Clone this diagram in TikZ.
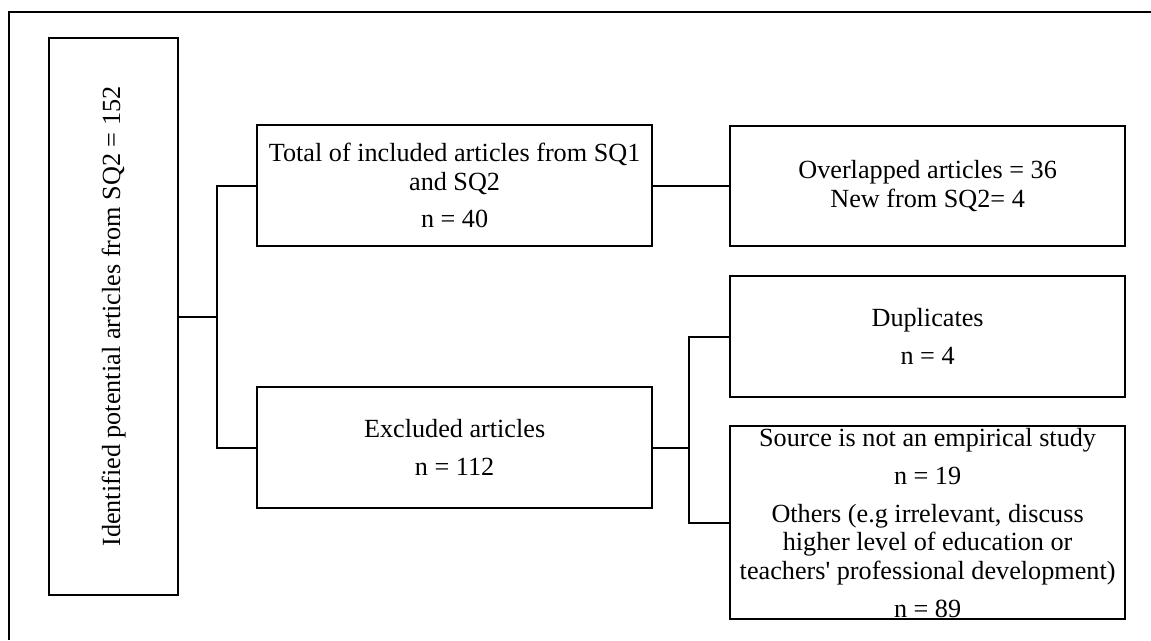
\documentclass[tikz,border=0pt]{standalone}
\usepackage{fontspec}
\setmainfont{Liberation Serif}[Ligatures=TeXOff]
\begin{document}
\begin{tikzpicture}[x=1pt,y=-1pt,
  box/.style={draw,line width=2.2pt,rectangle,inner sep=0pt,anchor=north west},
  txt/.style={align=center,inner sep=0pt,font=\fontsize{26.2}{28.5}\selectfont},
  conn/.style={line width=2.2pt}]
\useasboundingbox (0,0) rectangle (1151,640);
% outer frame (top and left edges visible)
\draw[line width=1.8pt] (9,640) -- (9,12) -- (1151,12);
% boxes
\node[box,minimum width=129pt,minimum height=557pt] (idf) at (48,37) {};
\node[box,minimum width=395pt,minimum height=121pt] (tot) at (256,124) {};
\node[box,minimum width=395pt,minimum height=120pt] (ovl) at (729,125) {};
\node[box,minimum width=395pt,minimum height=121pt] (exc) at (256,386) {};
\node[box,minimum width=395pt,minimum height=121pt] (dup) at (729,275) {};
\node[box,minimum width=395pt,minimum height=193pt] (src) at (729,425) {};
% texts
\node[txt,rotate=90] (idfT) at (idf.center) {Identified potential articles from SQ2 = 152};
\node[txt] (totT) at (tot.center) {Total of included articles from SQ1\\and SQ2\\[8.5pt]n = 40};
\node[txt] (ovlT) at (ovl.center) {Overlapped articles = 36\\New from SQ2= 4};
\node[txt] (excT) at (exc.center) {Excluded articles\\[10pt]n = 112};
\node[txt] (dupT) at (dup.center) {Duplicates\\[9pt]n = 4};
\node[txt] (srcT) at (src.center) {Source is not an empirical study\\[9.5pt]n = 19\\[9.5pt]Others (e.g irrelevant, discuss\\higher level of education or\\teachers' professional development)\\[9.5pt]n = 89};
% connectors
\coordinate (j1) at (217,315);
\coordinate (j2) at (689,447);
\draw[conn] (idf.east) -- (idf.east -| j1);
\draw[conn] (tot.west) -| (j1) |- (exc.west);
\draw[conn] (tot.east) -- (tot.east -| ovl.west);
\draw[conn] (exc.east) -- (exc.east -| j2);
\draw[conn] (dup.west) -| (j2) |- (src.west);
\end{tikzpicture}
\end{document}
